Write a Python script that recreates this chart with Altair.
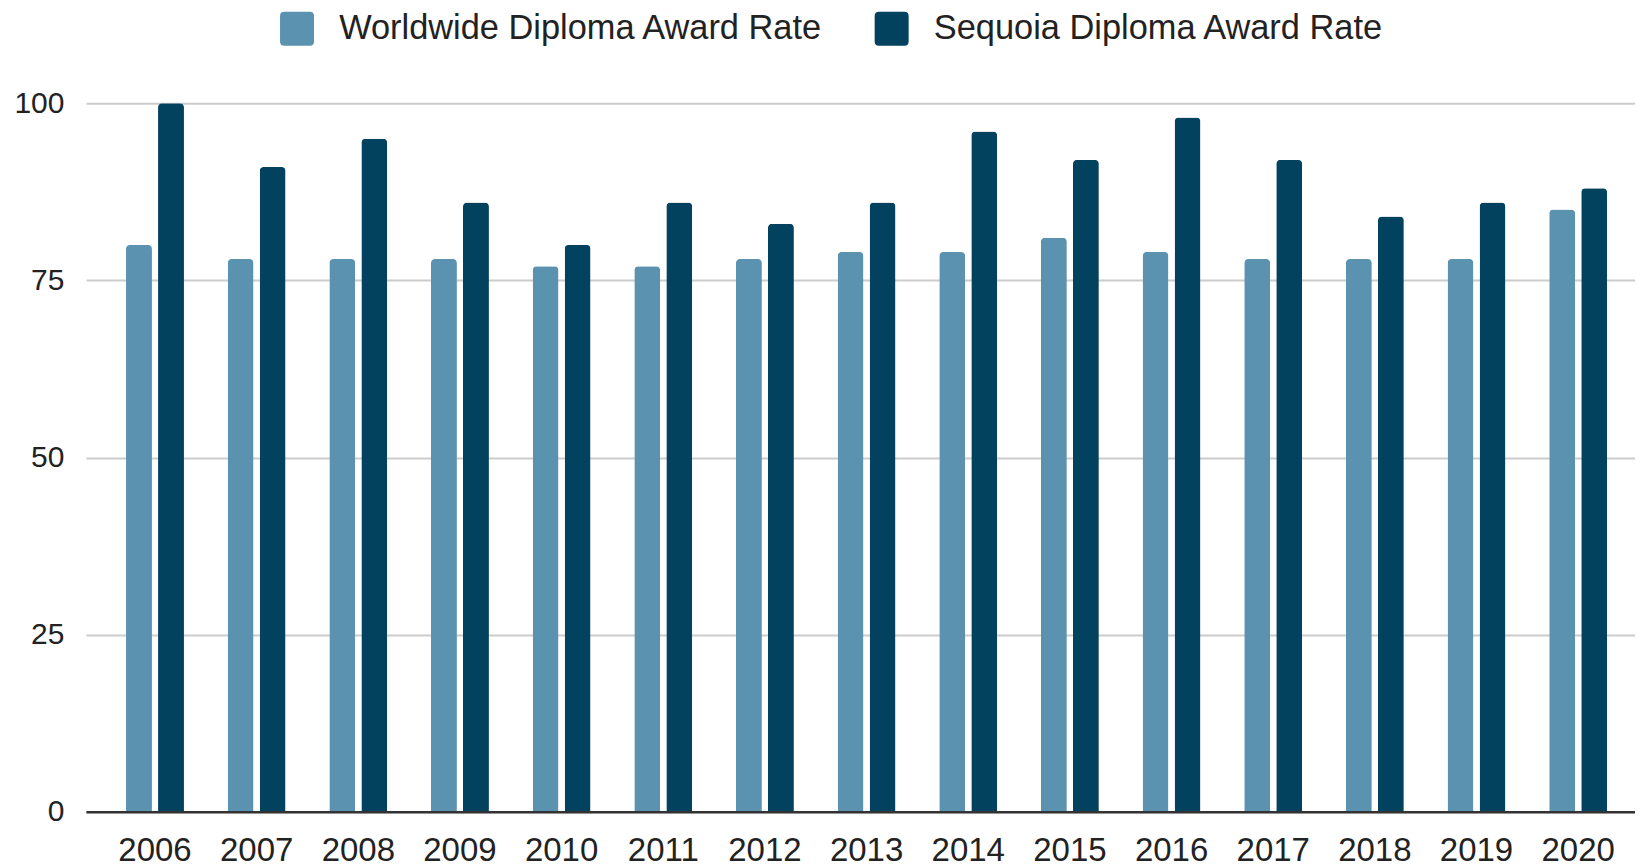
import altair as alt
import pandas as pd

years = [str(y) for y in range(2006, 2021)]
worldwide = [80, 78, 78, 78, 77, 77, 78, 79, 79, 81, 79, 78, 78, 78, 85]
sequoia = [100, 91, 95, 86, 80, 86, 83, 86, 96, 92, 98, 92, 84, 86, 88]
series = ["Worldwide Diploma Award Rate", "Sequoia Diploma Award Rate"]
colors = ["#5b92b0", "#02425f"]
y_ticks = [0, 25, 50, 75, 100]

rows = []
for i, yr in enumerate(years):
    rows.append({"year": yr, "series": series[0], "value": worldwide[i]})
    rows.append({"year": yr, "series": series[1], "value": sequoia[i]})
df = pd.DataFrame(rows)

FONT = "Liberation Sans"
rounded = "M-0.75,-1H0.75Q1,-1 1,-0.75V0.75Q1,1 0.75,1H-0.75Q-1,1 -1,0.75V-0.75Q-1,-1 -0.75,-1Z"

chart = alt.Chart(df).mark_bar(cornerRadiusTopLeft=4, cornerRadiusTopRight=4).encode(
    x=alt.X("year:N", sort=years, title=None,
            scale=alt.Scale(paddingInner=0.43, paddingOuter=0.334, align=0.59),
            axis=alt.Axis(labelAngle=0, labelFontSize=33, labelFont=FONT, labelColor="#222222",
                          labelPadding=23, ticks=False, domainColor="#333333", domainWidth=2.5,
                          grid=False, zindex=1)),
    xOffset=alt.XOffset("series:N", sort=series,
                        scale=alt.Scale(paddingInner=0.19, paddingOuter=0)),
    y=alt.Y("value:Q", title=None, scale=alt.Scale(domain=[0, 100], nice=False),
            axis=alt.Axis(values=y_ticks, labelFontSize=30, labelFont=FONT, labelColor="#222222",
                          domain=False, ticks=False, gridColor="#cccccc", gridWidth=2,
                          labelPadding=22)),
    color=alt.Color("series:N", sort=series,
                    scale=alt.Scale(domain=series, range=colors),
                    legend=alt.Legend(orient="none", legendX=194, legendY=-92,
                                      direction="horizontal", title=None,
                                      symbolType=rounded, symbolSize=1156,
                                      labelFontSize=34.4, labelFont=FONT, labelColor="#222222",
                                      labelOffset=25, columnPadding=51, labelLimit=1000,
                                      symbolStrokeWidth=0, symbolOpacity=1)),
).properties(
    width=1550, height=709,
    padding={"left": 5, "top": 3, "right": 0, "bottom": 0},
).configure_view(stroke=None)

chart.save("out.html", embed_options={"renderer": "svg", "actions": False})
